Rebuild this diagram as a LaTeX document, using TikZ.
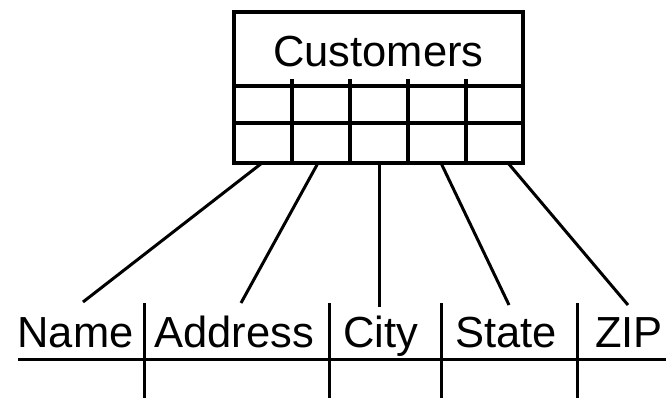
\documentclass[tikz,border=0pt]{standalone}
\usepackage{fontspec}
\setmainfont{Liberation Sans}
\begin{document}
\begin{tikzpicture}[x=1pt,y=-1pt,
  boxline/.style={line width=3.3pt},
  rule/.style={line width=3pt},
  link/.style={line width=3pt},
  lbl/.style={inner sep=0pt,anchor=base,font=\fontsize{43.5}{50}\selectfont}]
\useasboundingbox (0,0) rectangle (666,398);
% table box
\draw[boxline] (234,12) rectangle (523,163);
\draw[boxline] (234,86) -- (523,86);
\draw[boxline] (234,123) -- (523,123);
\foreach \x in {292,350,408,466}
  \draw[boxline] (\x,79) -- (\x,163);
\node[lbl] (cust) at (378.5,67) {Customers};
% connector start points on the box bottom
\coordinate (s1) at (262,163);
\coordinate (s2) at (318,163);
\coordinate (s3) at (379,163);
\coordinate (s4) at (441,163);
\coordinate (s5) at (508,163);
% labels
\node[lbl] (name) at (75.5,347) {Name};
\node[lbl] (addr) at (234,347) {Address};
\node[lbl] (city) at (381,347) {City};
\node[lbl] (state) at (506,347) {State};
\node[lbl,anchor=base west] (zip) at (595,347) {ZIP};
% connector end points above labels
\coordinate (e1) at (83,302);
\coordinate (e2) at (241,303);
\coordinate (e3) at (379,307);
\coordinate (e4) at (509,305);
\coordinate (e5) at (628,305);
\draw[link] (s1) -- (e1);
\draw[link] (s2) -- (e2);
\draw[link] (s3) -- (e3);
\draw[link] (s4) -- (e4);
\draw[link] (s5) -- (e5);
% field row rules
\draw[rule] (18,359) -- (666,359);
\foreach \x in {144,329,441,577}
  \draw[rule] (\x,303) -- (\x,398);
\end{tikzpicture}
\end{document}
